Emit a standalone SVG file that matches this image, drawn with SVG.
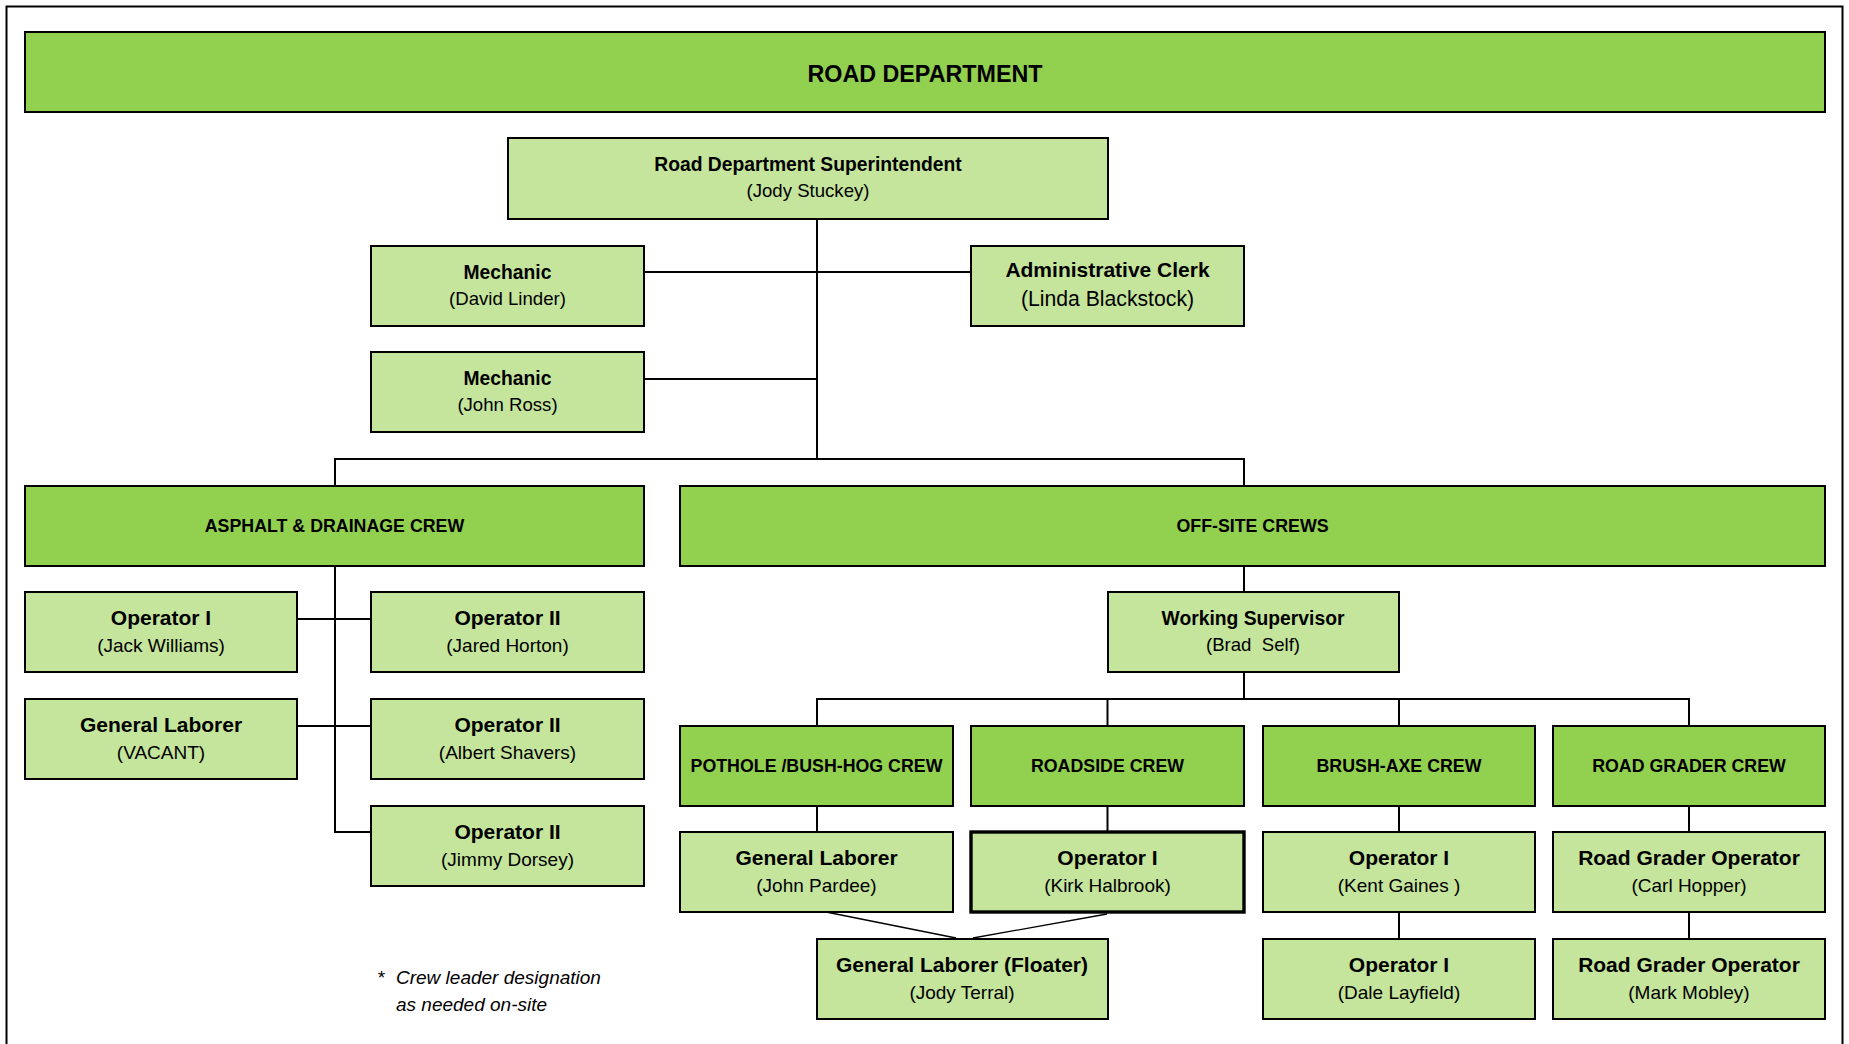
<svg xmlns="http://www.w3.org/2000/svg" width="1849" height="1044" viewBox="0 0 1849 1044">
<style>
  .hdr{fill:#92D050;stroke:#000;stroke-width:2}
  .box{fill:#C4E59B;stroke:#000;stroke-width:2}
  .thick{stroke-width:3.4}
  text{font-family:"Liberation Sans",Arial,sans-serif;fill:#000;text-anchor:middle}
  .t0{font-size:23.3px;font-weight:bold}
  .th{font-size:17.8px;font-weight:bold}
  .ts{font-size:19.3px;font-weight:bold}
  .tl{font-size:21px;font-weight:bold}
  .ns{font-size:18.6px}
  .nl{font-size:19px}
  .nx{font-size:21.2px}
  .note{font-size:19px;font-style:italic;text-anchor:start}
  .conn path{fill:none;stroke:#000;stroke-width:2}
  .conn .thin{stroke-width:1.3}
</style>
<rect x="6.5" y="6.5" width="1836" height="1060" fill="#fff" stroke="#000" stroke-width="2"/>

<g id="connectors" class="conn">
  <path d="M817 219V459"/>
  <path d="M644 272H971"/>
  <path d="M644 379H817"/>
  <path d="M335 486V459H1244V486"/>
  <path d="M335 566V832H371"/>
  <path d="M297 619H371"/>
  <path d="M297 726H371"/>
  <path d="M1244 566V592"/>
  <path d="M1244 672V699"/>
  <path d="M817 726V699H1689V726"/>
  <path d="M1107.5 699V726"/>
  <path d="M1399 699V726"/>
  <path d="M817 806V832"/>
  <path d="M1107.5 806V832"/>
  <path d="M1399 806V832"/>
  <path d="M1689 806V832"/>
  <path d="M1399 912V939"/>
  <path d="M1689 912V939"/>
  <path class="thin" d="M826 912L956 938"/>
  <path class="thin" d="M1107 914L973 938"/>
</g>

<g id="road-department">
  <rect class="hdr" x="25" y="32" width="1800" height="80"/>
  <text class="t0" x="925" y="82">ROAD DEPARTMENT</text>
</g>

<g id="superintendent">
  <rect class="box" x="508" y="138" width="600" height="81"/>
  <text class="ts" x="808" y="171">Road Department Superintendent</text>
  <text class="ns" x="808" y="197">(Jody Stuckey)</text>
</g>

<g id="mechanic-linder">
  <rect class="box" x="371" y="246" width="273" height="80"/>
  <text class="ts" x="507.5" y="279">Mechanic</text>
  <text class="ns" x="507.5" y="304.5">(David Linder)</text>
</g>

<g id="mechanic-ross">
  <rect class="box" x="371" y="352" width="273" height="80"/>
  <text class="ts" x="507.5" y="385">Mechanic</text>
  <text class="ns" x="507.5" y="410.5">(John Ross)</text>
</g>

<g id="admin-clerk">
  <rect class="box" x="971" y="246" width="273" height="80"/>
  <text class="tl" x="1107.5" y="277">Administrative Clerk</text>
  <text class="nx" x="1107.5" y="306">(Linda Blackstock)</text>
</g>

<g id="asphalt-crew">
  <rect class="hdr" x="25" y="486" width="619" height="80"/>
  <text class="th" x="334.5" y="532">ASPHALT &amp; DRAINAGE CREW</text>
</g>

<g id="offsite-crews">
  <rect class="hdr" x="680" y="486" width="1145" height="80"/>
  <text class="th" x="1252.5" y="532">OFF-SITE CREWS</text>
</g>

<g id="op1-williams">
  <rect class="box" x="25" y="592" width="272" height="80"/>
  <text class="tl" x="161" y="625">Operator I</text>
  <text class="nl" x="161" y="652">(Jack Williams)</text>
</g>

<g id="op2-horton">
  <rect class="box" x="371" y="592" width="273" height="80"/>
  <text class="tl" x="507.5" y="625">Operator II</text>
  <text class="nl" x="507.5" y="652">(Jared Horton)</text>
</g>

<g id="laborer-vacant">
  <rect class="box" x="25" y="699" width="272" height="80"/>
  <text class="tl" x="161" y="732">General Laborer</text>
  <text class="nl" x="161" y="759">(VACANT)</text>
</g>

<g id="op2-shavers">
  <rect class="box" x="371" y="699" width="273" height="80"/>
  <text class="tl" x="507.5" y="732">Operator II</text>
  <text class="nl" x="507.5" y="759">(Albert Shavers)</text>
</g>

<g id="op2-dorsey">
  <rect class="box" x="371" y="806" width="273" height="80"/>
  <text class="tl" x="507.5" y="839">Operator II</text>
  <text class="nl" x="507.5" y="866">(Jimmy Dorsey)</text>
</g>

<g id="working-supervisor">
  <rect class="box" x="1108" y="592" width="291" height="80"/>
  <text class="ts" x="1253" y="625">Working Supervisor</text>
  <text class="ns" x="1253" y="651" xml:space="preserve">(Brad  Self)</text>
</g>

<g id="pothole-crew">
  <rect class="hdr" x="680" y="726" width="273" height="80"/>
  <text class="th" x="816.5" y="772">POTHOLE /BUSH-HOG CREW</text>
</g>

<g id="roadside-crew">
  <rect class="hdr" x="971" y="726" width="273" height="80"/>
  <text class="th" x="1107.5" y="772">ROADSIDE CREW</text>
</g>

<g id="brushaxe-crew">
  <rect class="hdr" x="1263" y="726" width="272" height="80"/>
  <text class="th" x="1399" y="772">BRUSH-AXE CREW</text>
</g>

<g id="grader-crew">
  <rect class="hdr" x="1553" y="726" width="272" height="80"/>
  <text class="th" x="1689" y="772">ROAD GRADER CREW</text>
</g>

<g id="laborer-pardee">
  <rect class="box" x="680" y="832" width="273" height="80"/>
  <text class="tl" x="816.5" y="865">General Laborer</text>
  <text class="nl" x="816.5" y="892">(John Pardee)</text>
</g>

<g id="op1-halbrook">
  <rect class="box thick" x="971" y="832" width="273" height="80"/>
  <text class="tl" x="1107.5" y="865">Operator I</text>
  <text class="nl" x="1107.5" y="892">(Kirk Halbrook)</text>
</g>

<g id="op1-gaines">
  <rect class="box" x="1263" y="832" width="272" height="80"/>
  <text class="tl" x="1399" y="865">Operator I</text>
  <text class="nl" x="1399" y="892">(Kent Gaines )</text>
</g>

<g id="grader-hopper">
  <rect class="box" x="1553" y="832" width="272" height="80"/>
  <text class="tl" x="1689" y="865">Road Grader Operator</text>
  <text class="nl" x="1689" y="892">(Carl Hopper)</text>
</g>

<g id="laborer-floater">
  <rect class="box" x="817" y="939" width="291" height="80"/>
  <text class="tl" x="962" y="972">General Laborer (Floater)</text>
  <text class="nl" x="962" y="999">(Jody Terral)</text>
</g>

<g id="op1-layfield">
  <rect class="box" x="1263" y="939" width="272" height="80"/>
  <text class="tl" x="1399" y="972">Operator I</text>
  <text class="nl" x="1399" y="999">(Dale Layfield)</text>
</g>

<g id="grader-mobley">
  <rect class="box" x="1553" y="939" width="272" height="80"/>
  <text class="tl" x="1689" y="972">Road Grader Operator</text>
  <text class="nl" x="1689" y="999">(Mark Mobley)</text>
</g>

<g id="footnote">
  <text class="note" x="377" y="984">*</text>
  <text class="note" x="396" y="984">Crew leader designation</text>
  <text class="note" x="396" y="1011">as needed on-site</text>
</g>
</svg>
